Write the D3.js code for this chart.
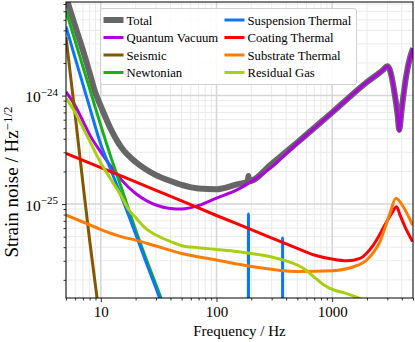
<!DOCTYPE html>
<html>
<head>
<meta charset="utf-8">
<script src="https://cdn.jsdelivr.net/npm/d3@7"></script>
<style>
  body { margin: 0; background: #fff; }
  svg text { font-family: "Liberation Serif", "Times New Roman", serif; fill: #000; }
</style>
</head>
<body>
<svg width="415" height="342"></svg>
<script>
// strain noise curves, [frequency Hz, strain / sqrt(Hz)]
var totalNoise = [[5, 8.1e-24], [6, 4.37e-24], [7, 2.62e-24], [8, 1.62e-24], [9, 1.05e-24], [10, 8.0e-25],
  [12, 5.1e-25], [15, 3.35e-25], [20, 2.44e-25], [25, 2.06e-25], [30, 1.85e-25], [40, 1.63e-25],
  [50, 1.50e-25], [70, 1.39e-25], [100, 1.37e-25], [150, 1.52e-25], [186, 1.61e-25], [189, 1.81e-25],
  [192, 1.63e-25], [300, 2.35e-25], [500, 3.7e-25], [1000, 7.0e-25], [2000, 1.33e-24], [2750, 1.72e-24],
  [3000, 1.87e-24], [3160, 1.72e-24], [3450, 1.08e-24], [3680, 6.65e-25], [3800, 4.85e-25],
  [3990, 7.4e-25], [4350, 1.48e-24], [4700, 2.22e-24], [5000, 2.74e-24]];

var quantumVacuum = [[5, 1.08e-24], [6, 8.07e-25], [7, 5.82e-25], [8, 4.37e-25], [10, 3.01e-25],
  [12, 2.29e-25], [15, 1.68e-25], [20, 1.25e-25], [25, 1.07e-25], [30, 9.8e-26], [40, 9.1e-26],
  [50, 9.0e-26], [70, 9.7e-26], [100, 1.135e-25], [150, 1.35e-25], [200, 1.61e-25], [300, 2.19e-25],
  [500, 3.65e-25], [1000, 6.97e-25], [2000, 1.33e-24], [2750, 1.72e-24], [3000, 1.87e-24],
  [3160, 1.72e-24], [3450, 1.08e-24], [3680, 6.6e-25], [3800, 4.71e-25], [3990, 7.35e-25],
  [4350, 1.48e-24], [4700, 2.22e-24], [5000, 2.74e-24]];

var seismic = [[5, 3.46e-24], [6, 6.61e-25], [7, 1.56e-25], [8, 4.66e-26], [9, 1.75e-26], [10, 7.35e-27]];

var newtonian = [[5, 6.05e-24], [6, 3.18e-24], [7, 1.85e-24], [8, 1.16e-24], [10, 5.28e-25],
  [12, 2.87e-25], [15, 1.43e-25], [20, 5.77e-26], [25, 3.0e-26], [30, 1.80e-26], [35, 1.16e-26]];

var suspensionThermal = [[5, 4.33e-24], [6, 2.22e-24], [7, 1.27e-24], [8, 7.83e-25], [10, 3.54e-25],
  [12, 2.16e-25], [15, 1.19e-25], [20, 5.30e-26], [25, 2.79e-26], [30, 1.67e-26], [35, 1.07e-26],
  [188, 1e-28], [189, 8.1e-26], [190, 1e-28], [372, 1e-28], [373, 4.86e-26], [374, 1e-28], [5000, 1e-28]];

var coatingThermal = [[5, 2.93e-25], [10, 2.17e-25], [20, 1.60e-25], [50, 1.07e-25], [100, 7.84e-26],
  [200, 5.81e-26], [500, 3.91e-26], [700, 3.39e-26], [1000, 3.11e-26], [1340, 3.0e-26],
  [1740, 3.16e-26], [2270, 4.19e-26], [2960, 6.87e-26], [3270, 8.2e-26], [3610, 9.44e-26],
  [3850, 8.0e-26], [4260, 6.18e-26], [4960, 4.5e-26]];

var substrateThermal = [[5, 7.93e-26], [7, 6.83e-26], [10, 5.82e-26], [15, 5.01e-26], [20, 4.65e-26],
  [30, 4.10e-26], [50, 3.50e-26], [100, 3.05e-26], [200, 2.66e-26], [500, 2.39e-26], [1000, 2.43e-26],
  [1530, 2.64e-26], [1990, 3.05e-26], [2590, 4.5e-26], [3160, 8.2e-26], [3560, 1.13e-25],
  [4120, 9.44e-26], [4960, 6.4e-26]];

var residualGas = [[5, 9.48e-25], [6, 6.97e-25], [7, 5.07e-25], [8, 3.83e-25], [10, 2.39e-25],
  [12, 1.74e-25], [15, 1.19e-25], [17.5, 8.81e-26], [20, 7.5e-26], [24.4, 5.97e-26], [30, 5.18e-26],
  [40, 4.51e-26], [50, 4.13e-26], [70, 3.95e-26], [100, 3.81e-26], [150, 3.65e-26], [200, 3.50e-26],
  [300, 3.25e-26], [400, 2.99e-26], [500, 2.74e-26], [600, 2.44e-26], [700, 2.12e-26], [850, 1.79e-26],
  [1000, 1.63e-26], [1300, 1.51e-26], [1600, 1.39e-26], [2000, 1.25e-26], [3000, 1.0e-26]];

var seriesNames = ["Total", "Quantum Vacuum", "Seismic", "Newtonian",
                   "Suspension Thermal", "Coating Thermal", "Substrate Thermal", "Residual Gas"];
var seriesColors = ["#666666", "#ad03de", "#855700", "#15b01a", "#0d75f8", "#fe0002", "#fb7d07", "#a9cf12"];
var seriesData = [totalNoise, quantumVacuum, seismic, newtonian,
                  suspensionThermal, coatingThermal, substrateThermal, residualGas];

var freqTicks = [10, 100, 1000];
var strainTicks = [1e-25, 1e-24];
var strainTickExp = ["\u221225", "\u221224"];

var serif = '"Liberation Serif", "Times New Roman", serif';

var svg = d3.select("svg"),
    width = +svg.attr("width"),
    height = +svg.attr("height");

var plotLeft = 66, plotRight = 413, plotTop = 2, plotBottom = 298;

var x = d3.scaleLog().domain([5, 5000]).range([plotLeft, plotRight]);
var y = d3.scaleLog().domain([1.36e-26, 7.3e-24]).range([plotBottom, plotTop]);

var xMinor = x.ticks().filter(function(d) { return freqTicks.indexOf(d) < 0; });
var yMinor = y.ticks().filter(function(d) {
  return strainTicks.every(function(t) { return Math.abs(d / t - 1) > 1e-6; });
});

// grid, minor then major
var grid = svg.append("g");
grid.selectAll(".gx-minor").data(xMinor).enter().append("line")
  .attr("x1", function(d) { return x(d); }).attr("x2", function(d) { return x(d); })
  .attr("y1", plotTop).attr("y2", plotBottom)
  .attr("stroke", "#eaeaea").attr("stroke-width", 1);
grid.selectAll(".gy-minor").data(yMinor).enter().append("line")
  .attr("y1", function(d) { return y(d); }).attr("y2", function(d) { return y(d); })
  .attr("x1", plotLeft).attr("x2", plotRight)
  .attr("stroke", "#eaeaea").attr("stroke-width", 1);
grid.selectAll(".gx-major").data(freqTicks).enter().append("line")
  .attr("x1", function(d) { return x(d); }).attr("x2", function(d) { return x(d); })
  .attr("y1", plotTop).attr("y2", plotBottom)
  .attr("stroke", "#d6d6d6").attr("stroke-width", 1.5);
grid.selectAll(".gy-major").data(strainTicks).enter().append("line")
  .attr("y1", function(d) { return y(d); }).attr("y2", function(d) { return y(d); })
  .attr("x1", plotLeft).attr("x2", plotRight)
  .attr("stroke", "#d6d6d6").attr("stroke-width", 1.5);

svg.append("clipPath").attr("id", "plotClip")
  .append("rect").attr("x", plotLeft).attr("y", plotTop)
  .attr("width", plotRight - plotLeft).attr("height", plotBottom - plotTop);

var line = d3.line()
  .x(function(d) { return x(d[0]); })
  .y(function(d) { return y(d[1]); })
  .curve(d3.curveMonotoneX);

var curves = svg.append("g").attr("clip-path", "url(#plotClip)");
seriesData.forEach(function(data, i) {
  curves.append("path")
    .datum(data)
    .attr("d", line)
    .attr("fill", "none")
    .attr("stroke", seriesColors[i])
    .attr("stroke-width", i === 0 ? 6 : 3)
    .attr("stroke-linejoin", "round");
});

// axes
var xAxis = svg.append("g")
  .attr("class", "axis axis--x")
  .attr("transform", "translate(0," + plotBottom + ")")
  .call(d3.axisBottom(x).tickValues(freqTicks).tickSize(4).tickSizeOuter(0)
    .tickFormat(d3.format("d")));
svg.append("g")
  .attr("transform", "translate(0," + plotBottom + ")")
  .call(d3.axisBottom(x).tickValues(xMinor).tickSize(2.5).tickSizeOuter(0).tickFormat(""))
  .select(".domain").remove();

var yAxis = svg.append("g")
  .attr("class", "axis axis--y")
  .attr("transform", "translate(" + plotLeft + ",0)")
  .call(d3.axisLeft(y).tickValues(strainTicks).tickSize(4).tickSizeOuter(0).tickFormat(""));
svg.append("g")
  .attr("transform", "translate(" + plotLeft + ",0)")
  .call(d3.axisLeft(y).tickValues(yMinor).tickSize(2.5).tickSizeOuter(0).tickFormat(""))
  .select(".domain").remove();

svg.selectAll(".axis .domain").remove();
svg.selectAll(".tick line").attr("stroke", "#000").attr("stroke-width", 0.8);

xAxis.selectAll(".tick text")
  .style("font-family", serif)
  .attr("font-size", 15)
  .attr("y", 8)
  .attr("dy", "0.71em");

yAxis.selectAll(".tick text").each(function(d, i) {
  var t = d3.select(this)
    .style("font-family", serif)
    .attr("font-size", 15.5)
    .attr("x", -8)
    .attr("dy", "0.4em");
  t.append("tspan").text("10");
  t.append("tspan").attr("dy", "-0.6em").attr("font-size", 11).text(strainTickExp[i]);
});

svg.append("rect")
  .attr("x", plotLeft).attr("y", plotTop)
  .attr("width", plotRight - plotLeft).attr("height", plotBottom - plotTop)
  .attr("fill", "none").attr("stroke", "#000").attr("stroke-width", 1);

svg.append("text")
  .attr("x", (plotLeft + plotRight) / 2)
  .attr("y", 336)
  .attr("text-anchor", "middle")
  .style("font-family", serif)
  .attr("font-size", 15)
  .text("Frequency / Hz");

var ylab = svg.append("text")
  .attr("transform", "translate(18," + 182 + ") rotate(-90)")
  .attr("text-anchor", "middle")
  .style("font-family", serif)
  .attr("font-size", 19);
ylab.append("tspan").text("Strain noise / Hz");
ylab.append("tspan").attr("dy", "-0.5em").attr("font-size", 13).text("\u22121/2");

// legend, two columns of four
var legend = svg.append("g");
legend.append("rect")
  .attr("x", 100.5).attr("y", 8.5)
  .attr("width", 256).attr("height", 76)
  .attr("rx", 2.5)
  .attr("fill", "#fff").attr("fill-opacity", 0.85)
  .attr("stroke", "#d0d0d0").attr("stroke-width", 1);

seriesNames.forEach(function(name, i) {
  var col = Math.floor(i / 4), row = i % 4;
  var lx = col === 0 ? 103.5 : 224.5;
  var ly = 20 + row * 17.5;
  legend.append("line")
    .attr("x1", lx).attr("x2", lx + 20)
    .attr("y1", ly).attr("y2", ly)
    .attr("stroke", seriesColors[i])
    .attr("stroke-width", i === 0 ? 6 : 3);
  legend.append("text")
    .attr("x", lx + 23)
    .attr("y", ly + 4.5)
    .style("font-family", serif)
    .attr("font-size", 12.7)
    .text(name);
});
</script>
</body>
</html>
